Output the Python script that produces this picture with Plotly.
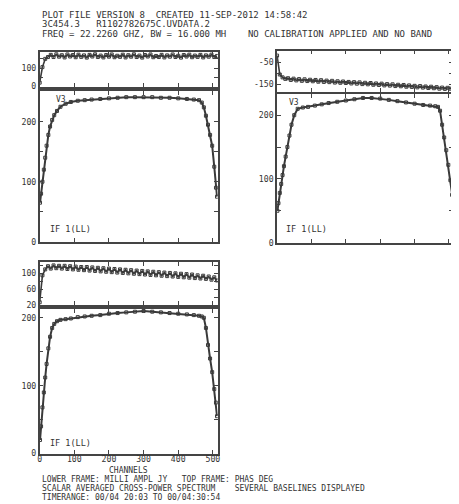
import plotly.graph_objects as go

W, H = 459, 504

# ---------------- data ----------------
channels_phase = list(range(0, 513, 8))
channels_amp = [1, 4, 8, 12, 16, 20, 25, 30, 36, 42, 50, 60, 75, 90, 110, 130, 150, 175,
                200, 225, 250, 275, 300, 325, 350, 375, 400, 425, 445, 460, 468, 474,
                480, 486, 492, 498, 504, 509, 512]

tl_phase = [20, 105, 150, 160, 172, 160, 175, 162,
            170, 158, 174, 163, 171, 159, 173, 161,
            169, 157, 172, 163, 175, 160, 168, 158,
            171, 162, 174, 159, 167, 161, 173, 158,
            170, 162, 175, 160, 168, 157, 171, 163,
            174, 159, 166, 160, 172, 158, 169, 162,
            174, 160, 167, 157, 171, 163, 173, 159,
            168, 161, 172, 158, 169, 162, 173, 160,
            166]
tr_phase = [-18, -105, -118, -125, -122, -130, -124, -132,
            -126, -134, -127, -135, -129, -136, -130, -138,
            -131, -139, -133, -140, -134, -142, -136, -143,
            -137, -144, -139, -146, -140, -147, -141, -149,
            -143, -150, -144, -152, -146, -153, -147, -155,
            -149, -156, -150, -158, -152, -159, -153, -161,
            -155, -162, -157, -164, -158, -165, -160, -167,
            -161, -168, -163, -170, -165, -171, -166, -170,
            -160]
bl_phase = [27, 95, 110, 118, 112, 120, 113, 119,
            112, 119, 111, 118, 110, 117, 109, 116,
            108, 116, 107, 115, 106, 114, 105, 113,
            104, 112, 103, 111, 102, 110, 101, 109,
            100, 108, 99, 107, 98, 106, 97, 105,
            96, 104, 95, 103, 94, 102, 93, 101,
            92, 100, 91, 99, 90, 98, 89, 97,
            88, 95, 87, 94, 86, 92, 84, 90,
            82]

tl_amp = [65, 80, 100, 120, 140, 160, 178, 192, 203, 211, 218, 225, 230, 233, 235, 236,
          237, 238, 239, 240, 241, 241, 241, 241, 240, 240, 239, 238, 237, 236, 232, 224,
          210, 195, 178, 160, 125, 90, 75]
tr_amp = [50, 62, 78, 92, 106, 120, 135, 150, 168, 185, 200, 210, 212, 213, 215, 217,
          219, 221, 223, 225, 227, 227, 226, 224, 222, 220, 218, 216, 215, 214, 213, 207,
          185, 165, 145, 122, 98, 75, 65]
bl_amp = [20, 40, 68, 90, 112, 132, 155, 172, 185, 191, 195, 197, 198, 199, 201, 202,
          203, 204, 206, 207, 208, 209, 210, 209, 208, 207, 206, 205, 204, 203, 202, 200,
          185, 160, 140, 120, 95, 75, 55]

x_ticks = [0, 100, 200, 300, 400, 500]
x_tick_labels = ["0", "100", "200", "300", "400", "500"]

tl_phase_ticks = [0, 50, 100, 150]
tl_phase_labels = ["0", "", "100", ""]
tl_amp_ticks = [0, 50, 100, 150, 200, 250]
tl_amp_labels = ["0", "", "100", "", "200", ""]
tr_phase_ticks = [-50, -100, -150]
tr_phase_labels = ["-50", "", "-150"]
tr_amp_ticks = [0, 50, 100, 150, 200]
tr_amp_labels = ["0", "", "100", "", "200"]
bl_phase_ticks = [20, 40, 60, 80, 100, 120]
bl_phase_labels = ["20", "", "60", "", "100", ""]
bl_amp_ticks = [0, 50, 100, 150, 200]
bl_amp_labels = ["0", "", "100", "", "200"]

header_lines = ["PLOT FILE VERSION 8  CREATED 11-SEP-2012 14:58:42",
                "3C454.3   R1102782675C.UVDATA.2",
                "FREQ = 22.2260 GHZ, BW = 16.000 MH    NO CALIBRATION APPLIED AND NO BAND"]
footer_lines = ["LOWER FRAME: MILLI AMPL JY   TOP FRAME: PHAS DEG",
                "SCALAR AVERAGED CROSS-POWER SPECTRUM    SEVERAL BASELINES DISPLAYED",
                "TIMERANGE: 00/04 20:03 TO 00/04:30:54"]
if_label = "IF 1(LL)"
bl_label = "V3"
x_title = "CHANNELS"

# ---------------- layout ----------------
INK = "#3a3a3a"
FONT = "DejaVu Sans Mono"

# panels: (x0,x1,y0,y1 in px), yrange, tickvals, ticktext, xrange, show x labels
panels = [
    ((30, 210, 44, 80), [-5, 190], tl_phase_ticks, tl_phase_labels, [0, 514], False),
    ((30, 210, 84, 236), [0, 251], tl_amp_ticks, tl_amp_labels, [0, 514], False),
    ((270, 448, 43, 85), [-186, 5], tr_phase_ticks, tr_phase_labels, [0, 512], False),
    ((270, 448, 87, 237), [0, 233], tr_amp_ticks, tr_amp_labels, [0, 512], False),
    ((30, 210, 257, 300), [20, 127.5], bl_phase_ticks, bl_phase_labels, [0, 514], False),
    ((30, 210, 304, 450), [0, 213], bl_amp_ticks, bl_amp_labels, [0, 514], True),
]
series = [
    (channels_phase, tl_phase, "phase"),
    (channels_amp, tl_amp, "amp"),
    (channels_phase, tr_phase, "phase"),
    (channels_amp, tr_amp, "amp"),
    (channels_phase, bl_phase, "phase"),
    (channels_amp, bl_amp, "amp"),
]

fig = go.Figure()
layout = dict(width=W, height=H, margin=dict(l=0, r=0, t=0, b=0),
              paper_bgcolor="white", plot_bgcolor="white", showlegend=False,
              font=dict(family=FONT, color="#333333", size=9))

for i, ((px0, px1, py0, py1), yr, tv, tt, xr, showx) in enumerate(panels):
    n = i + 1
    xs, ys, kind = series[i]
    suffix = "" if n == 1 else str(n)
    lw = 1.6 if kind == "phase" else 2
    fig.add_trace(go.Scatter(x=xs, y=ys, mode="lines+markers",
                             line=dict(color=INK, width=lw),
                             marker=dict(color=INK, size=3, symbol="square-open"),
                             xaxis="x" + suffix, yaxis="y" + suffix, cliponaxis=True))
    layout["xaxis" + suffix] = dict(
        domain=[px0 / W, px1 / W], range=xr, anchor="y" + suffix,
        showline=True, linecolor="#444444", linewidth=1.5, mirror="ticks",
        ticks="inside", ticklen=4, tickcolor="#444444", tickwidth=1,
        tickvals=x_ticks, ticktext=x_tick_labels, showticklabels=showx,
        ticklabelstandoff=-3,
        tickfont=dict(size=8.2, family=FONT, color="#333333"),
        showgrid=False, zeroline=False, fixedrange=True)
    layout["yaxis" + suffix] = dict(
        domain=[1 - py1 / H, 1 - py0 / H], range=yr, anchor="x" + suffix,
        showline=True, linecolor="#444444", linewidth=1.5, mirror="ticks",
        ticks="inside", ticklen=4, tickcolor="#444444", tickwidth=1,
        tickvals=tv, ticktext=tt,
        tickfont=dict(size=8.2, family=FONT, color="#333333"),
        showgrid=False, zeroline=False, fixedrange=True)

fig.update_layout(**layout)


def txt(s, px, py, size=9.0, anchor="left"):
    fig.add_annotation(text=s, x=px / W, y=1 - py / H, xref="paper", yref="paper",
                       showarrow=False, xanchor=anchor, yanchor="middle",
                       font=dict(family=FONT, size=size, color="#333333"))


for k, s in enumerate(header_lines):
    txt(s, 30, 7 + k * 9.5)
for k, s in enumerate(footer_lines):
    txt(s, 30, 476.5 + k * 9.2, size=8.0)
txt(x_title, 120, 467.5, size=8.0, anchor="center")
txt(if_label, 38, 223, size=8.5)
txt(if_label, 277, 223, size=8.5)
txt(if_label, 38, 439, size=8.5)
txt(bl_label, 44, 92, size=8)
txt(bl_label, 280, 95, size=8)

fig.write_html("out.html")
